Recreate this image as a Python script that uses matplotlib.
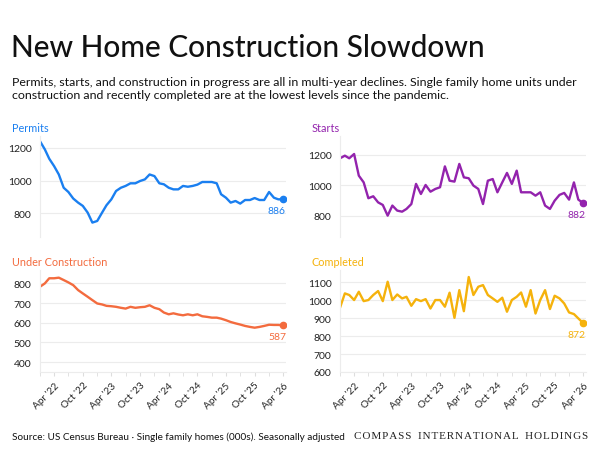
import matplotlib
matplotlib.use("Agg")
import matplotlib.pyplot as plt
import matplotlib.dates as mdates
import pandas as pd

plt.rcParams['font.family'] = ['Lato', 'DejaVu Sans']

# monthly, Jan 2022 .. Apr 2026 (thousands of units, SAAR)
months = pd.date_range("2022-01-01", periods=52, freq="MS")

permits = [1240, 1190, 1133, 1088, 1037, 956, 930, 890, 865, 845, 804, 743,
           753, 804, 849, 885, 936, 956, 967, 983, 983, 997, 1007, 1037,
           1027, 983, 977, 956, 946, 946, 967, 962, 967, 975, 991, 991,
           991, 983, 916, 895, 865, 875, 859, 881, 881, 893, 881, 881,
           930, 895, 885, 886]

starts = [1176, 1193, 1176, 1204, 1062, 1018, 914, 927, 887, 870, 800, 866,
          833, 826, 844, 876, 1008, 942, 1001, 957, 975, 986, 1123, 1029,
          1023, 1139, 1051, 1045, 997, 975, 876, 1029, 1040, 953, 1018, 1080,
          1008, 1095, 953, 953, 953, 931, 953, 866, 844, 898, 936, 949,
          905, 1018, 905, 882]

under_construction = [783, 800, 826, 826, 829, 817, 805, 791, 766, 749, 732, 715,
                      698, 693, 686, 684, 681, 676, 672, 681, 676, 679, 681, 689,
                      676, 669, 652, 643, 648, 642, 638, 643, 638, 643, 633, 630,
                      626, 626, 621, 613, 604, 597, 591, 584, 579, 575, 579, 584,
                      590, 589, 589, 587]

completed = [957, 1037, 1028, 1000, 1046, 994, 1000, 1028, 1050, 994, 1102, 1000,
             1031, 1009, 1018, 968, 1005, 994, 1005, 953, 1000, 1000, 963, 1041,
             901, 1055, 938, 1128, 1028, 1074, 1083, 1028, 1009, 990, 1013, 935,
             1000, 1018, 1042, 963, 1055, 925, 1000, 1055, 950, 1024, 1009, 981,
             931, 922, 898, 872]

panels = [
    ("Permits", permits, "#1a7ff0", (655, 1272), [800, 1000, 1200], (40, 137, 286, 238), False),
    ("Starts", starts, "#9323ad", (660, 1322), [800, 1000, 1200], (340, 137, 586, 238), False),
    ("Under Construction", under_construction, "#f36b3e", (350, 868),
     [400, 500, 600, 700, 800], (40, 271, 286, 373), True),
    ("Completed", completed, "#f5b20c", (600, 1167),
     [600, 700, 800, 900, 1000, 1100], (340, 271, 586, 373), True),
]

W, H = 600, 460
fig = plt.figure(figsize=(6, 4.6), dpi=100)
fig.patch.set_facecolor("white")

fig.text(11 / W, 1 - 48 / H, "New Home Construction Slowdown", fontsize=21.5,
         weight="medium", color="#111111", va="center", ha="left")
fig.text(12 / W, 1 - 89 / H,
         "Permits, starts, and construction in progress are all in multi-year declines. Single family home units under\n"
         "construction and recently completed are at the lowest levels since the pandemic.",
         fontsize=8.9, color="#111111", va="center", ha="left", linespacing=1.3)

grid_c = "#ececec"
for name, vals, color, ylim, yticks, (x0, y0, x1, y1), show_x in panels:
    ax = fig.add_axes([x0 / W, 1 - y1 / H, (x1 - x0) / W, (y1 - y0) / H])
    ax.plot(months, vals, color=color, lw=1.7, solid_joinstyle="round", solid_capstyle="round")
    ax.plot(months[-1], vals[-1], "o", color=color, ms=4.5)
    ax.annotate(str(vals[-1]), (months[-1], vals[-1]), xytext=(2, -5),
                textcoords="offset points", ha="right", va="top",
                fontsize=7.5, color=color)
    ax.set_xlim(months[0], months[-1] + pd.Timedelta(days=18))
    ax.set_ylim(*ylim)
    ax.set_yticks(yticks)
    ax.grid(axis="y", color=grid_c, lw=0.8)
    ax.set_axisbelow(True)
    for s in ["top", "right"]:
        ax.spines[s].set_visible(False)
    ax.spines["left"].set_color(grid_c)
    ax.tick_params(axis="y", length=0, labelsize=7.5, labelcolor="#222222", pad=6)
    ax.text(-28 / 246, 1.08, name, transform=ax.transAxes, fontsize=7.8,
            color=color, ha="left", va="center")
    if show_x:
        ax.spines["bottom"].set_color(grid_c)
        ax.xaxis.set_major_locator(mdates.MonthLocator(bymonth=[4, 10]))
        ax.xaxis.set_minor_locator(mdates.MonthLocator(bymonth=[1, 7]))
        ax.xaxis.set_major_formatter(mdates.DateFormatter("%b '%y"))
        ax.tick_params(axis="x", which="both", length=3, color="#dddddd",
                       labelsize=7.2, labelcolor="#222222", pad=3)
        for lbl in ax.get_xticklabels():
            lbl.set_rotation(45)
            lbl.set_ha("right")
            lbl.set_rotation_mode("anchor")
    else:
        ax.spines["bottom"].set_visible(False)
        ax.set_xticks([])

fig.text(12 / W, 1 - 437 / H,
         "Source: US Census Bureau \u00b7 Single family homes (000s). Seasonally adjusted",
         fontsize=7.2, color="#111111", va="center", ha="left")
fig.text(588 / W, 1 - 437 / H, "C O M P A S S\u2002 I N T E R N A T I O N A L\u2002 H O L D I N G S".replace(" ", "\u200a"),
         fontsize=8, family="Liberation Serif", color="#222222", va="center", ha="right")

fig.savefig("out.png", dpi=100, facecolor="white")
